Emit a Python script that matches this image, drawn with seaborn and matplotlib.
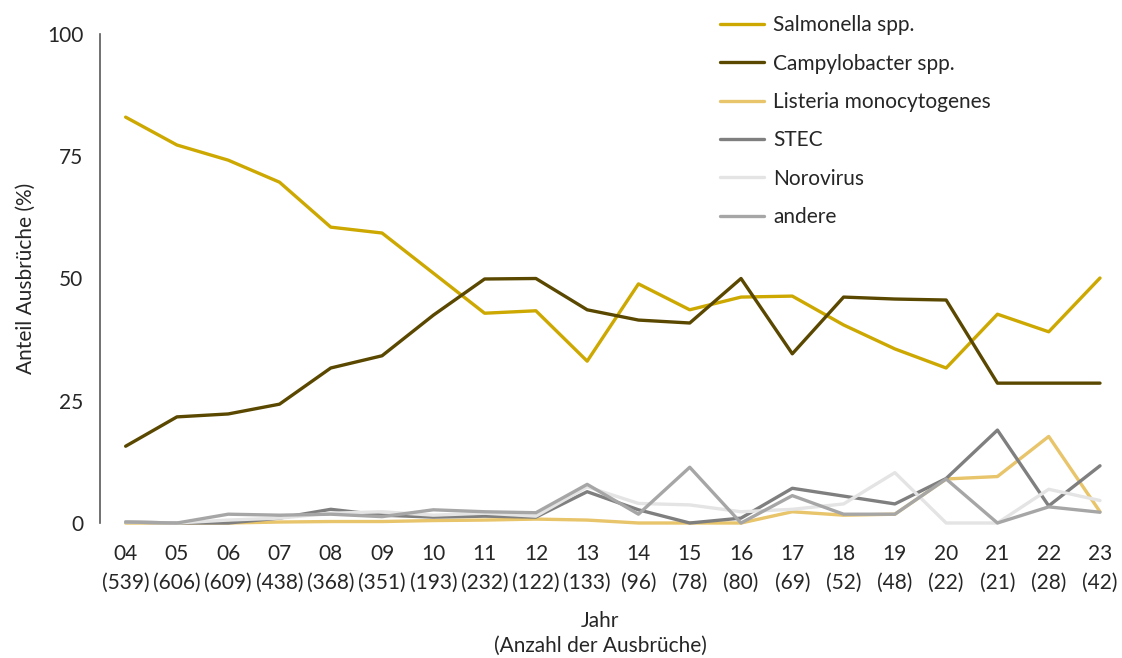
import matplotlib
matplotlib.use("Agg")
import matplotlib.pyplot as plt
import seaborn as sns
import pandas as pd
import numpy as np
from matplotlib.lines import Line2D

years = ["04", "05", "06", "07", "08", "09", "10", "11", "12", "13",
         "14", "15", "16", "17", "18", "19", "20", "21", "22", "23"]
counts = [539, 606, 609, 438, 368, 351, 193, 232, 122, 133,
          96, 78, 80, 69, 52, 48, 22, 21, 28, 42]

salmonella = [83.0, 77.3, 74.2, 69.7, 60.5, 59.3, 51.1, 42.9, 43.4, 33.1,
              48.9, 43.6, 46.2, 46.4, 40.5, 35.6, 31.7, 42.7, 39.1, 50.1]
campylobacter = [15.7, 21.7, 22.3, 24.3, 31.7, 34.2, 42.5, 49.9, 50.0, 43.6,
                 41.5, 40.9, 50.0, 34.6, 46.2, 45.8, 45.6, 28.6, 28.6, 28.6]
listeria = [0.0, 0.0, 0.0, 0.2, 0.3, 0.3, 0.5, 0.6, 0.8, 0.6,
            0.0, 0.0, 0.0, 2.3, 1.6, 1.8, 9.0, 9.5, 17.7, 2.3]
stec = [0.2, 0.0, 0.0, 1.0, 2.8, 1.6, 1.2, 1.4, 1.2, 6.4,
        2.7, 0.0, 1.0, 7.1, 5.5, 3.9, 9.1, 19.0, 3.5, 11.7]
norovirus = [0.2, 0.0, 0.6, 1.0, 2.0, 2.3, 1.6, 2.0, 1.4, 7.4,
             4.0, 3.7, 2.3, 2.8, 3.9, 10.3, 0.0, 0.0, 6.9, 4.6]
andere = [0.2, 0.0, 1.8, 1.6, 1.8, 1.3, 2.7, 2.3, 2.1, 7.9,
          1.8, 11.4, 0.0, 5.6, 1.8, 1.8, 9.0, 0.0, 3.3, 2.2]

series_names = ["Salmonella spp.", "Campylobacter spp.", "Listeria monocytogenes",
                "STEC", "Norovirus", "andere"]
series_values = [salmonella, campylobacter, listeria, stec, norovirus, andere]
colors = ["#CCA800", "#5A4800", "#E8C46A", "#7F7F7F", "#E4E4E4", "#A6A6A6"]

rows = []
for name, vals in zip(series_names, series_values):
    for i, v in enumerate(vals):
        rows.append({"x": i, "value": v, "series": name})
df = pd.DataFrame(rows)

sns.set_style("white")
plt.rcParams["font.family"] = ["Lato", "DejaVu Sans"]
FS = 15
LW = 2.4

fig = plt.figure(figsize=(11.22, 6.58), dpi=100)
ax = fig.add_axes([100/1122, 1-523/658, 1000/1122, (523-34)/658])

sns.lineplot(data=df, x="x", y="value", hue="series", hue_order=series_names,
             palette=dict(zip(series_names, colors)), linewidth=LW, ax=ax,
             legend=False)
for ln in ax.lines:
    ln.set_clip_on(False)

ax.set_xlim(-0.5, 19)
ax.set_ylim(0, 100)
ax.set_yticks([0, 25, 50, 75, 100])
ax.set_xticks(range(len(years)))
ax.set_xticklabels([f"{y}\n({c})" for y, c in zip(years, counts)], fontsize=FS,
                   linespacing=1.55)
ax.tick_params(axis="y", labelsize=FS, length=5, width=1.2, color="#595959", pad=7)
ax.tick_params(axis="x", length=0, pad=15)
for s in ["top", "right", "bottom"]:
    ax.spines[s].set_visible(False)
ax.spines["left"].set_color("#595959")
ax.spines["left"].set_linewidth(1.2)

ax.set_xlabel("Jahr\n(Anzahl der Ausbrüche)", fontsize=FS, linespacing=1.35, labelpad=13)
ax.set_ylabel("Anteil Ausbrüche (%)", fontsize=FS, labelpad=8)

handles = [Line2D([0], [0], color=c, lw=LW) for c in colors]
fig.legend(handles, series_names, loc="upper left", bbox_to_anchor=(712/1122, 1-7/658),
           frameon=False, fontsize=FS, handlelength=2.1, handletextpad=0.45,
           labelspacing=0.88, borderaxespad=0.0)

fig.savefig("out.png", dpi=100)
